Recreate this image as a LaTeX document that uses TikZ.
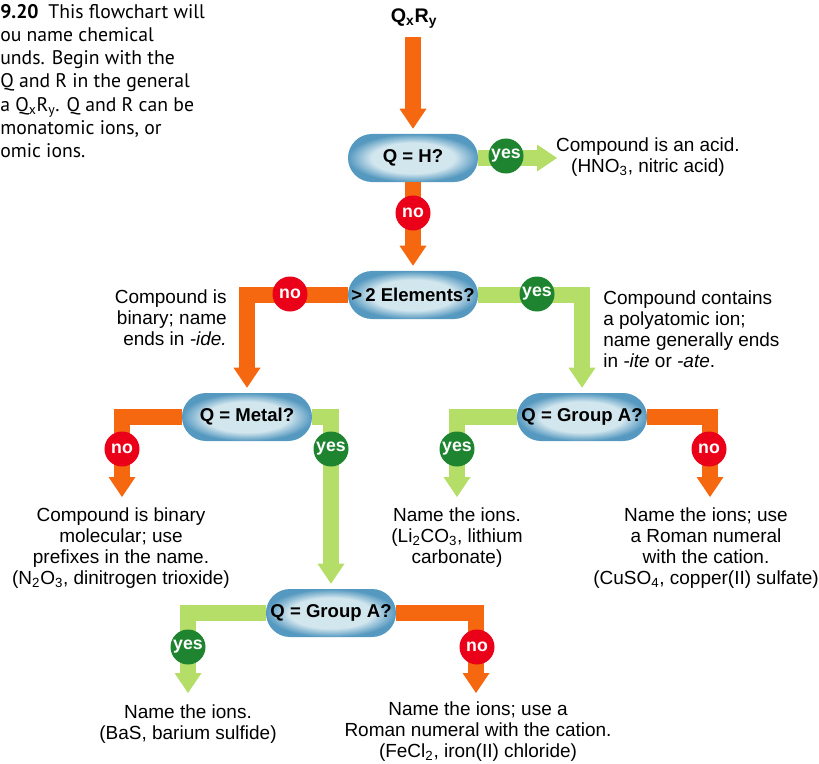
\documentclass[tikz,border=0pt]{standalone}
\usepackage{fontspec}
\setmainfont{Liberation Sans}
\newfontfamily\capfont{PT Sans}
\usetikzlibrary{arrows.meta}
\definecolor{noorange}{HTML}{F66810}
\definecolor{yesgreen}{HTML}{B4DE68}
\definecolor{yesdark}{HTML}{1E8430}
\definecolor{nored}{HTML}{EB0019}
\definecolor{pillblue}{HTML}{5699C0}
\definecolor{pilllight}{HTML}{D2E6EE}
\pgfdeclareradialshading{pill}{\pgfpoint{0bp}{0bp}}{color(0bp)=(pilllight); color(16bp)=(pilllight); color(25bp)=(pillblue); color(50bp)=(pillblue)}
\tikzset{
  ask/.style={shade, shading=pill, rounded corners=0.6cm, minimum width=3.25cm, minimum height=1.2cm, inner sep=0pt, font=\bfseries\fontsize{13.2}{14}\selectfont},
  outcome/.style={align=center, inner sep=0pt},
  noarrow/.style={draw=noorange, line width=0.4cm, -{Triangle[width=0.675cm,length=0.5cm,line width=0pt]}},
  yesarrow/.style={noarrow, draw=yesgreen},
  yesdot/.style={circle, fill=yesdark, text=white, minimum size=0.875cm, inner sep=0pt, font=\bfseries\fontsize{12.6}{13}\selectfont},
  nodot/.style={yesdot, fill=nored},
}
\begin{document}
\begin{tikzpicture}[x=0.025cm, y=-0.025cm, font=\fontsize{13.5}{14.9}\selectfont]
        \useasboundingbox (0,0) rectangle (819,763);
        % caption
        \node[anchor=north west, align=left, inner sep=0pt, font=\capfont\fontsize{14}{16.5}\selectfont] (cap) at (0,4) {\textbf{9.20}\enspace This flowchart will\\ou name chemical\\unds. Begin with the\\Q and R in the general\\a Q\textsubscript{x}R\textsubscript{y}. Q and R can be\\monatomic ions, or\\omic ions.};
        % start
        \node[font=\bfseries\fontsize{14}{15}\selectfont, inner sep=0pt] (QR) at (414,19) {Q\textsubscript{x}R\textsubscript{y}};
        \coordinate (QRtail) at (413,37);
        % questions
        \node[ask] (qh) at (413,158) {Q = H?};
        \node[ask] (el) at (413,295) {>\,2 Elements?};
        \node[ask] (qm) at (247,417) {Q = Metal?};
        \node[ask] (ga) at (582,417) {Q = Group A?};
        \node[ask] (gb) at (331,613) {Q = Group A?};
        % answers
        \node[outcome] (acid) at (648,157) {Compound is an acid.\\(HNO\textsubscript{3}, nitric acid)};
        \node[outcome, anchor=east, align=right] (bin) at (227,318) {Compound is\\binary; name\\ends in \textit{-ide.}};
        \node[outcome, anchor=west, align=left] (poly) at (603,329) {Compound contains\\a polyatomic ion;\\name generally ends\\in \textit{-ite} or \textit{-ate}.};
        \node[outcome] (mol) at (121,548) {Compound is binary\\molecular; use\\prefixes in the name.\\(N\textsubscript{2}O\textsubscript{3}, dinitrogen trioxide)};
        \node[outcome] (licarb) at (457,538) {Name the ions.\\(Li\textsubscript{2}CO\textsubscript{3}, lithium\\carbonate)};
        \node[outcome] (cuso) at (706,548) {Name the ions; use\\a Roman numeral\\with the cation.\\(CuSO\textsubscript{4}, copper(II) sulfate)};
        \node[outcome] (bas) at (188,724) {Name the ions.\\(BaS, barium sulfide)};
        \node[outcome] (fecl) at (478,732) {Name the ions; use a\\Roman numeral with the cation.\\(FeCl\textsubscript{2}, iron(II) chloride)};
        % arrow tips
        \coordinate (acidtip) at (557,158);
        \coordinate (moltip) at (122,497);
        \coordinate (litip) at (457,497);
        \coordinate (cutip) at (710,497);
        \coordinate (bastip) at (188,693);
        \coordinate (fetip) at (476,693);
        % arrows
        \draw[noarrow, shorten >=0.125cm] (QRtail) -- (qh.north);
        \draw[yesarrow] (qh.east) -- (acidtip);
        \draw[noarrow, shorten >=0.125cm] (qh.south) -- (el.north);
        \draw[noarrow, shorten >=0.125cm] (el.west) -| (qm.north);
        \draw[yesarrow, shorten >=0.125cm] (el.east) -| (ga.north);
        \draw[noarrow] (qm.west) -| (moltip);
        \draw[yesarrow, shorten >=0.125cm] (qm.east) -| (gb.north);
        \draw[yesarrow] (ga.west) -| (litip);
        \draw[noarrow] (ga.east) -| (cutip);
        \draw[yesarrow] (gb.west) -| (bastip);
        \draw[noarrow] (gb.east) -| (fetip);
        % yes / no dots
        \node[yesdot] (y1) at (506,156) {yes};
        \node[nodot] (n1) at (413,213) {no};
        \node[nodot] (n2) at (290,294) {no};
        \node[yesdot] (y2) at (537,294) {yes};
        \node[nodot] (n3) at (122,449) {no};
        \node[yesdot] (y3) at (331,449) {yes};
        \node[yesdot] (y4) at (457,449) {yes};
        \node[nodot] (n4) at (709,449) {no};
        \node[yesdot] (y5) at (188,647) {yes};
        \node[nodot] (n5) at (477,647) {no};
\end{tikzpicture}
\end{document}
